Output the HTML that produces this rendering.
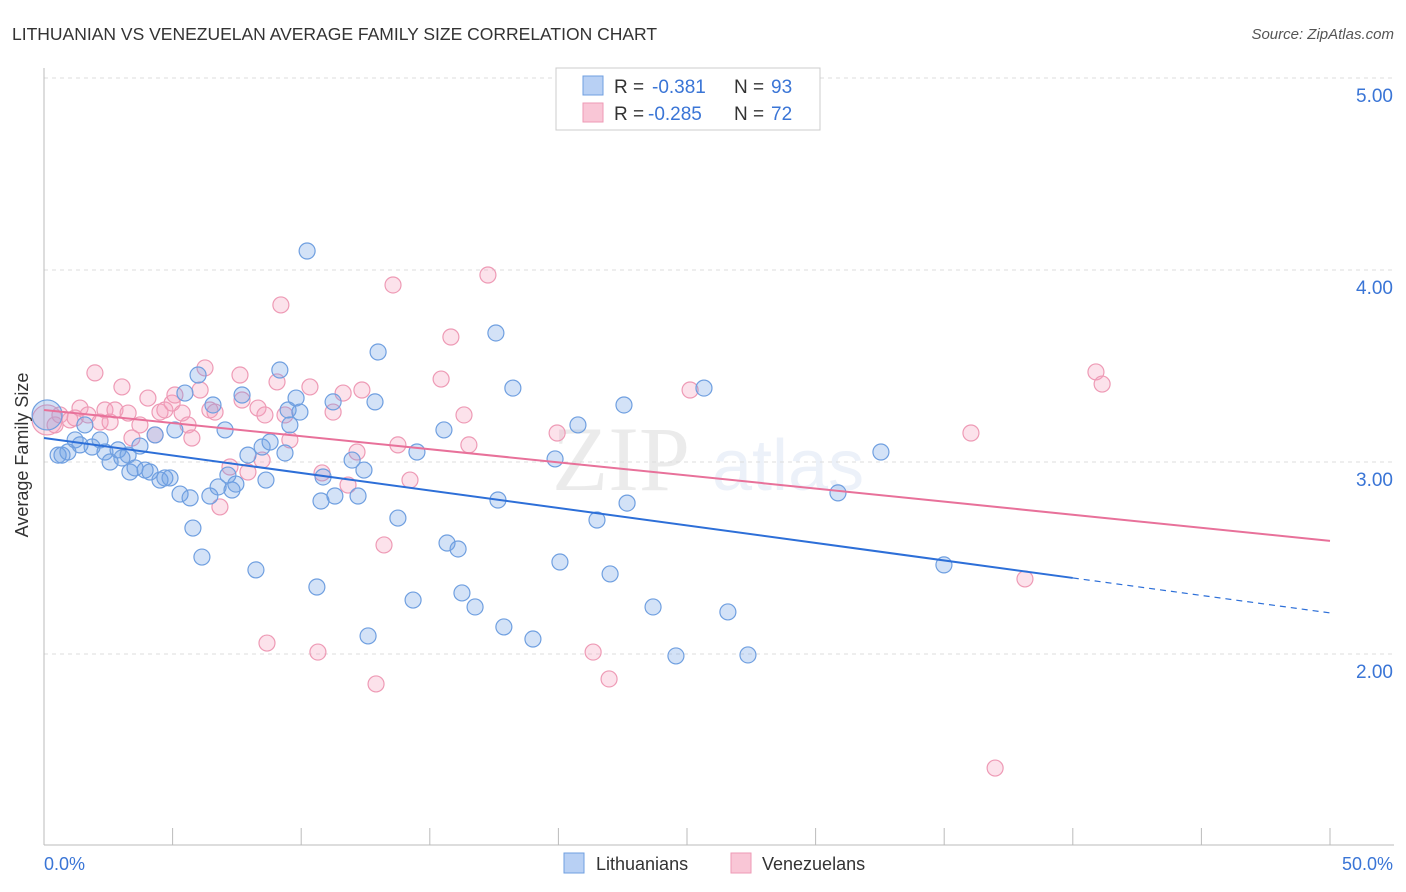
<!DOCTYPE html>
<html><head><meta charset="utf-8"><style>
body{margin:0;background:#fff;font-family:"Liberation Sans",sans-serif}
svg{display:block}
</style></head><body>
<svg width="1406" height="892" viewBox="0 0 1406 892">
<text x="12" y="40" font-size="17.5" fill="#333">LITHUANIAN VS VENEZUELAN AVERAGE FAMILY SIZE CORRELATION CHART</text>
<text x="1394" y="39" font-size="15" fill="#555" font-style="italic" text-anchor="end">Source: ZipAtlas.com</text>
<g opacity="0.12">
<text x="552" y="490" font-size="92" font-family="Liberation Serif,serif" fill="#666">ZIP</text>
<text x="712" y="490" font-size="72" fill="#6a8fd0">atlas</text>
</g>
<g id="grid"></g>
<g id="axes"></g>
<g id="pts"></g>
<g id="trends"></g>
<text x="28" y="455" font-size="18" fill="#333" text-anchor="middle" transform="rotate(-90 28 455)">Average Family Size</text>
<text x="44" y="870" font-size="18" fill="#3a75d6">0.0%</text>
<text x="1393" y="870" font-size="18" fill="#3a75d6" text-anchor="end">50.0%</text>
<g>
<rect x="556" y="68" width="264" height="62" fill="#fff" stroke="#ccc"/>
<g>
<rect x="583" y="76" width="20" height="19" fill="#b8d0f4" stroke="#6f9fe0"/>
<text x="614" y="93" font-size="19" fill="#333">R = </text><text x="652" y="93" font-size="19" fill="#3a75d6">-0.381</text>
<text x="734" y="93" font-size="19" fill="#333">N = </text><text x="771" y="93" font-size="19" fill="#3a75d6">93</text>
</g>
<g>
<rect x="583" y="103" width="20" height="19" fill="#f9c6d6" stroke="#ee9ab5"/>
<text x="614" y="120" font-size="19" fill="#333">R = </text><text x="648" y="120" font-size="19" fill="#3a75d6">-0.285</text>
<text x="734" y="120" font-size="19" fill="#333">N = </text><text x="771" y="120" font-size="19" fill="#3a75d6">72</text>
</g>
</g>
<g>
<g>
<rect x="564" y="853" width="20" height="20" fill="#b8d0f4" stroke="#6f9fe0"/>
<text x="596" y="870" font-size="18" fill="#333">Lithuanians</text></g>
<g>
<rect x="731" y="853" width="20" height="20" fill="#f9c6d6" stroke="#ee9ab5"/>
<text x="762" y="870" font-size="18" fill="#333">Venezuelans</text></g>
</g>
</svg>
<script>
const yTicks=[2,3,4,5];
const yTickLabels=["2.00","3.00","4.00","5.00"];
const xTicks=[0,5,10,15,20,25,30,35,40,45,50];
const blueX=[0.12,0.55,0.70,0.93,1.21,1.59,1.40,1.87,2.18,2.37,2.57,2.88,3.03,3.27,3.34,3.54,3.73,3.93,4.12,4.32,4.51,4.70,4.90,5.09,5.29,5.48,5.68,5.79,5.99,6.14,6.45,6.57,6.77,7.04,7.15,7.31,7.46,7.70,7.93,8.24,8.48,8.63,8.79,9.17,9.37,9.49,9.56,9.80,9.95,10.23,10.61,10.77,10.85,11.24,11.31,11.98,12.21,12.44,12.60,12.87,12.99,13.76,14.35,14.50,15.55,15.67,16.10,16.25,16.76,17.57,17.65,17.88,18.23,19.01,19.87,20.06,20.76,21.50,22.01,22.55,22.67,23.68,24.57,25.66,26.59,27.37,30.87,32.54,34.99];
const blueY=[3.245,3.036,3.036,3.052,3.115,3.193,3.089,3.078,3.115,3.052,3.0,3.063,3.021,3.036,2.948,2.969,3.083,2.958,2.948,3.141,2.906,2.917,2.917,3.167,2.833,3.359,2.813,2.656,3.453,2.505,2.823,3.297,2.870,3.167,2.932,2.854,2.885,3.349,3.036,2.438,3.078,2.906,3.104,3.479,3.047,3.271,3.193,3.333,3.260,4.099,2.349,2.797,2.922,3.313,2.823,3.010,2.823,2.958,2.094,3.313,3.573,2.708,2.281,3.052,3.167,2.578,2.547,2.318,2.245,3.672,2.802,2.141,3.385,2.078,3.016,2.479,3.193,2.698,2.417,3.297,2.786,2.245,1.990,3.385,2.219,1.995,2.839,3.052,2.464];
const pinkX=[0.12,0.43,0.62,1.01,1.21,1.40,1.71,1.98,2.18,2.37,2.57,2.76,3.03,3.27,3.42,3.73,4.04,4.32,4.51,4.70,4.98,5.09,5.37,5.60,5.75,6.07,6.26,6.45,6.65,6.84,7.23,7.62,7.70,7.93,8.32,8.48,8.59,8.67,9.06,9.21,9.37,9.56,10.34,10.65,10.81,11.24,11.63,11.82,12.17,12.36,12.91,13.22,13.57,13.76,14.23,15.44,15.82,16.33,16.52,17.26,19.95,21.35,21.97,25.12,36.04,36.98,38.14,40.90,41.14];
const pinkY=[3.219,3.193,3.245,3.219,3.229,3.281,3.245,3.464,3.208,3.271,3.208,3.271,3.391,3.255,3.125,3.193,3.333,3.141,3.260,3.271,3.307,3.349,3.255,3.193,3.125,3.375,3.490,3.271,3.260,2.766,2.974,3.453,3.323,2.948,3.281,3.010,3.245,2.057,3.417,3.818,3.245,3.115,3.391,2.010,2.943,3.260,3.359,2.880,3.052,3.375,1.844,2.568,3.922,3.089,2.906,3.432,3.651,3.245,3.089,3.974,3.151,2.010,1.870,3.375,3.151,1.406,2.391,3.469,3.406];
const blueTrend=[3.125,2.214];
const blueSolidEnd=40;
const pinkTrend=[3.271,2.589];

const NS="http://www.w3.org/2000/svg";
const X0=44,X1=1330,YB=845;
const xs=v=>X0+(X1-X0)*v/50;
const ys=v=>654-(v-2)*192;
function mk(tag,attrs,parent){const e=document.createElementNS(NS,tag);for(const k in attrs)e.setAttribute(k,attrs[k]);parent.appendChild(e);return e;}
const grid=document.getElementById('grid'),axes=document.getElementById('axes'),pts=document.getElementById('pts'),tr=document.getElementById('trends');
yTicks.forEach((t,i)=>{
  const l=mk('line',{x1:X0,x2:1394,y1:ys(t),y2:ys(t),stroke:'#ddd','stroke-dasharray':'4 4'},grid);
  
  
  const tx=mk('text',{x:1393,y:ys(t)+24,'font-size':19,fill:'#3a75d6','text-anchor':'end'},grid);
  tx.textContent=yTickLabels[i];
  
  
});
const la=mk('line',{x1:X0,x2:X0,y1:68,y2:YB,stroke:'#bbb'},axes);


const ba=mk('line',{x1:X0,x2:1394,y1:YB,y2:YB,stroke:'#bbb'},axes);


xTicks.forEach(t=>{
  const l=mk('line',{x1:xs(t),x2:xs(t),y1:828,y2:YB,stroke:'#bbb'},axes);
  
  
});
function dots(X,Y,fill,stroke,name){
  X.forEach((x,i)=>{
    const r=i===0?15:8;
    const c=mk('circle',{cx:xs(x),cy:ys(Y[i]),r:r,fill:fill,stroke:stroke,'stroke-width':1.2},pts);
    
    
  });
}
dots(pinkX,pinkY,'rgba(244,160,188,0.3)','#ee9ab5','venezuelan-point');
dots(blueX,blueY,'rgba(110,160,230,0.3)','#6f9fe0','lithuanian-point');
const bAt=x=>blueTrend[0]+(blueTrend[1]-blueTrend[0])*x/50;
const b1=mk('line',{x1:xs(0),y1:ys(bAt(0)),x2:xs(blueSolidEnd),y2:ys(bAt(blueSolidEnd)),stroke:'#2d6fd8','stroke-width':2},tr);


const b2=mk('line',{x1:xs(blueSolidEnd),y1:ys(bAt(blueSolidEnd)),x2:xs(50),y2:ys(bAt(50)),stroke:'#2d6fd8','stroke-width':1.2,'stroke-dasharray':'6 5'},tr);


const p1=mk('line',{x1:xs(0),y1:ys(pinkTrend[0]),x2:xs(50),y2:ys(pinkTrend[1]),stroke:'#e8719a','stroke-width':2},tr);


</script>
</body></html>
